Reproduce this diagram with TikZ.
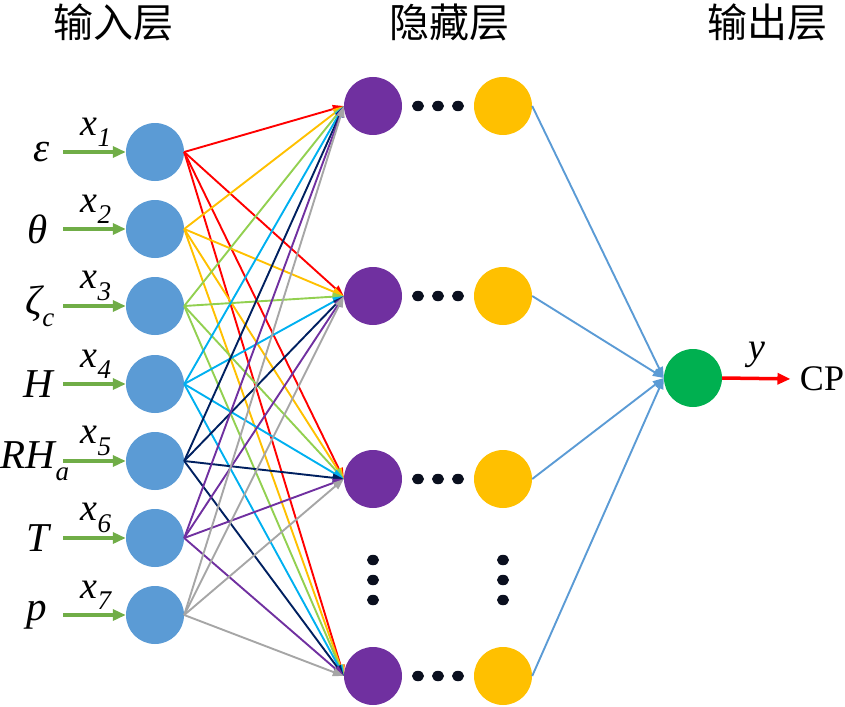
\documentclass[tikz,border=0pt]{standalone}
\usepackage{fontspec}
\setmainfont{Liberation Serif}
\newfontfamily\cjk{Noto Sans CJK SC}
\usetikzlibrary{arrows.meta,shapes.geometric}
\definecolor{inblue}{HTML}{5B9BD5}
\definecolor{hpurple}{HTML}{7030A0}
\definecolor{hyellow}{HTML}{FFC000}
\definecolor{outgreen}{HTML}{00B050}
\definecolor{argreen}{HTML}{70AD47}
\definecolor{cred}{HTML}{FF0000}
\definecolor{cgold}{HTML}{FFC000}
\definecolor{clgreen}{HTML}{92D050}
\definecolor{ccyan}{HTML}{00B0F0}
\definecolor{cnavy}{HTML}{002060}
\definecolor{cpurple}{HTML}{7030A0}
\definecolor{cgray}{HTML}{A6A6A6}
\definecolor{dotcol}{HTML}{0A0F1E}
\newcommand\vsub[1]{\raisebox{-0.3em}{\fontsize{27}{27}\selectfont\itshape #1}}
\begin{document}
\begin{tikzpicture}[x=1pt,y=-1pt,
  neuron/.style={circle,minimum size=58pt,inner sep=0pt,draw=none},
  inneuron/.style={neuron,fill=inblue},
  hpneuron/.style={neuron,fill=hpurple},
  hyneuron/.style={neuron,fill=hyellow},
  outneuron/.style={neuron,fill=outgreen},
  bigdot/.style={ellipse,minimum width=12pt,minimum height=10.5pt,inner sep=0pt,fill=dotcol},
  conn/.style={line width=1.9pt,-{Triangle[length=11pt,width=8pt]}},
  inarrow/.style={argreen,line width=3.5pt,-{Triangle[length=13pt,width=11pt]}},
  title/.style={font=\cjk\fontsize{40}{40}\selectfont},
  varlab/.style={font=\fontsize{41}{41}\selectfont\itshape},
  xlab/.style={font=\fontsize{38}{38}\selectfont\itshape}
]
\useasboundingbox (0,0) rectangle (845,706);
% titles
\node[title] (t1) at (113,22) {输入层};
\node[title] (t2) at (449,22) {隐藏层};
\node[title] (t3) at (767,22) {输出层};
% input nodes
\foreach \i/\y in {1/152,2/229,3/306,4/384,5/461,6/538,7/615}{
  \node[inneuron] (in\i) at (155,\y) {};
  \coordinate (s\i) at (63,\y);
}
% hidden nodes
\foreach \j/\y in {1/106,2/296,3/479,4/676}{
  \node[hpneuron] (h\j) at (373,\y) {};
  \node[hyneuron] (g\j) at (503,\y) {};
  \foreach \dx [count=\k] in {418,438,458}{
    \node[bigdot] (d\j\k) at (\dx,\y) {};
  }
}
% vertical dots
\foreach \yy [count=\k] in {560,580,600}{
  \node[bigdot] (va\k) at (373,\yy) {};
  \node[bigdot] (vb\k) at (503,\yy) {};
}
% output node
\node[outneuron] (out) at (693,378) {};
\node[font=\fontsize{36}{36}\selectfont] (cp) at (822,379) {CP};
\draw[cred,line width=3.5pt,shorten >=6pt,-{Triangle[length=13pt,width=11pt]}] (out.east) -- (cp.west);
\node[xlab] (ylab) at (757,355) {y};
% input-to-hidden connections
\foreach \i/\c in {1/cred,2/cgold,3/clgreen,4/ccyan,5/cnavy,6/cpurple,7/cgray}{
  \foreach \j in {1,2,3,4}{
    \draw[conn,\c] (in\i.east) -- (h\j.west);
  }
}
% hidden-to-output connections
\foreach \j in {1,2,3,4}{
  \draw[conn,inblue] (g\j.east) -- (out.west);
}
% input arrows
\foreach \i in {1,...,7}{
  \draw[inarrow] (s\i) -- (in\i.west);
}
% labels
\node[varlab] (v1) at (42,152) {ε};
\node[varlab] (v2) at (38,229) {θ};
\node[varlab] (v3) at (40,306) {ζ\vsub{c}};
\node[varlab] (v4) at (38,384) {H};
\node[varlab] (v5) at (35,461) {RH\vsub{a}};
\node[varlab] (v6) at (38,538) {T};
\node[varlab] (v7) at (37,615) {p};
\foreach \i/\y in {1/152,2/229,3/306,4/384,5/461,6/538,7/615}{
  \node[xlab] (x\i) at (96,\y-20) {x\vsub{\i}};
}
\end{tikzpicture}
\end{document}
